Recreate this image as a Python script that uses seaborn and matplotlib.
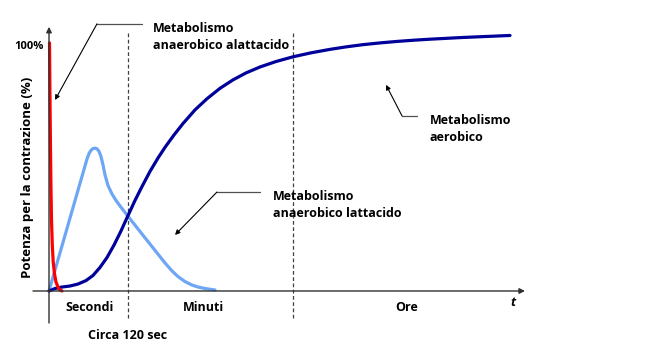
import matplotlib
matplotlib.use("Agg")
import matplotlib.pyplot as plt
import seaborn as sns
import pandas as pd

# tempo (unita' arbitrarie, origine = asse y) e potenza (%)
t_alattacido = [0.5, 1, 1.5, 2, 2.5, 3.3, 4.2, 5.5, 7, 9, 11, 13]
p_alattacido = [100, 77.0, 56.9, 40.7, 28.6, 18.5, 11.7, 6.9, 3.6, 1.6, 0.4, 0]

t_lattacido = [0, 38, 40, 42, 44, 46, 48, 50, 52, 54, 56, 59, 63, 67, 71, 75, 79, 89,
               103, 116, 123, 129, 136, 143, 149, 156, 166]
p_lattacido = [0, 53.2, 55.4, 56.7, 57.4, 57.6, 57.3, 56.3, 54.2, 50.8, 46.8, 42.5, 39.1,
               36.5, 34.3, 32.2, 30.1, 25.0, 17.9, 11.3, 8.1, 5.8, 3.8, 2.4, 1.6, 1.0, 0.4]

t_aerobico = [0, 6, 13, 21, 29, 37, 44, 51, 58, 65, 72, 79, 86, 93, 101, 109, 116, 125,
              134, 146, 158, 171, 184, 197, 211, 227, 244, 262, 281, 297, 314, 331, 348,
              365, 381, 414, 461]
p_aerobico = [0, 1.0, 1.6, 2.0, 2.8, 4.2, 6.25, 9.5, 13.5, 18.5, 24.2, 30.4, 36.5, 42.1,
              48.2, 53.6, 57.9, 62.9, 67.5, 73.0, 77.5, 81.7, 85.1, 87.9, 90.3, 92.5, 94.4,
              96.0, 97.4, 98.4, 99.3, 100.0, 100.6, 101.1, 101.5, 102.2, 103.0]

t_limiti = [79, 244]
fasi = ["Secondi", "Minuti", "Ore"]
t_fasi = [40, 154, 358]

sns.set_theme(style="white")
plt.rcParams['font.family'] = ['Open Sans', 'DejaVu Sans']
plt.rcParams['text.color'] = 'black'

fig = plt.figure(figsize=(6.69, 3.53), dpi=100)
ax = fig.add_axes([0, 0, 1, 1])

# assi con freccia
ax.annotate("", xy=(0, 106.5), xytext=(0, -12.9),
            arrowprops=dict(arrowstyle='-|>', color='#303030', lw=1, mutation_scale=8,
                            shrinkA=0, shrinkB=0))
ax.annotate("", xy=(476, 0), xytext=(-16, 0),
            arrowprops=dict(arrowstyle='-|>', color='#303030', lw=1, mutation_scale=8,
                            shrinkA=0, shrinkB=0))

for x in t_limiti:
    ax.plot([x, x], [-10.9, 104.4], ls=(0, (3, 2)), color='#404040', lw=0.9)

df_a = pd.DataFrame({'t': t_alattacido, 'p': p_alattacido})
df_l = pd.DataFrame({'t': t_lattacido, 'p': p_lattacido})
df_o = pd.DataFrame({'t': t_aerobico, 'p': p_aerobico})

sns.lineplot(data=df_l, x='t', y='p', sort=False, color='#6EA6F6', lw=2.3, ax=ax)
sns.lineplot(data=df_o, x='t', y='p', sort=False, color='#00009A', lw=2.3, ax=ax)
sns.lineplot(data=df_a, x='t', y='p', sort=False, color='#FF0000', lw=2.3, ax=ax)

ax.set_xlim(-49, 620)
ax.set_ylim(-25.0, 117.3)
ax.set_axis_off()

fs = 9
ax.text(-5, 98.4, "100%", ha='right', va='center', fontsize=8, fontweight='bold')
for nome, x in zip(fasi, t_fasi):
    ax.text(x, -6.5, nome, ha='center', va='center', fontsize=fs, fontweight='bold')
ax.text(464, -4.8, "t", ha='center', va='center', fontsize=fs, fontweight='bold', style='italic')
ax.text(79, -18.1, "Circa 120 sec", ha='center', va='center', fontsize=fs, fontweight='bold')
ax.text(-21, 45.6, "Potenza per la contrazione (%)", ha='center', va='center',
        rotation=90, fontsize=fs + 0.5, fontweight='bold')

# etichette con linee di richiamo
etichette = [
    ("Metabolismo\nanaerobico alattacido", (104, 102.4), (93, 107.7), (48, 107.7), (6, 77.0)),
    ("Metabolismo\nanaerobico lattacido", (224, 34.5), (211, 39.9), (168, 39.9), (126, 22.6)),
    ("Metabolismo\naerobico", (381, 65.3), (368, 70.6), (353, 70.6), (337, 83.1)),
]
for testo, pos, a, b, punta in etichette:
    ax.text(pos[0], pos[1], testo, ha='left', va='center', fontsize=fs,
            fontweight='bold', linespacing=1.4)
    ax.plot([a[0], b[0]], [a[1], b[1]], color='#505050', lw=0.9)
    ax.annotate("", xy=punta, xytext=b,
                arrowprops=dict(arrowstyle='-|>', color='black', lw=0.8, mutation_scale=7,
                                shrinkA=0, shrinkB=0))

fig.savefig("out.png", dpi=100)
